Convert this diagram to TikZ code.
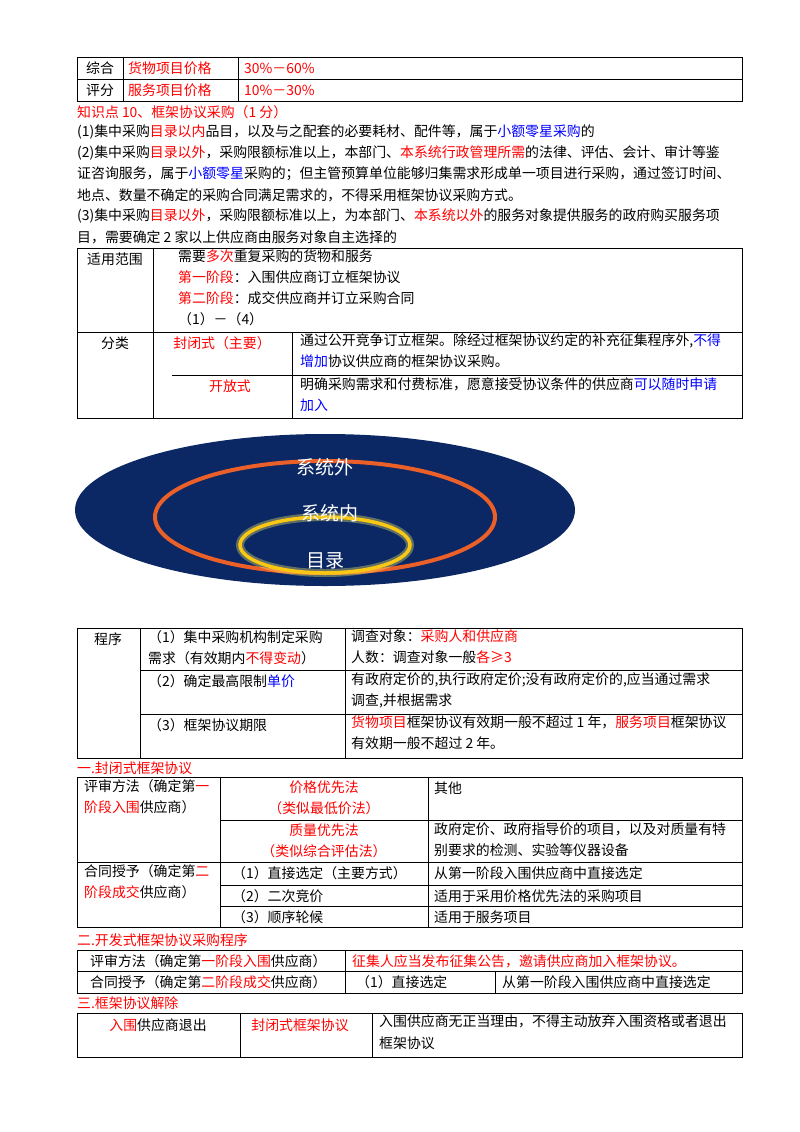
\documentclass[tikz,border=0pt]{standalone}
\usepackage{fontspec}
\setmainfont{Noto Sans CJK SC}
\newcommand{\R}[1]{\textcolor{red}{#1}}
\newcommand{\B}[1]{\textcolor{blue}{#1}}
\begin{document}
\begin{tikzpicture}[x=1pt,y=-1pt,
 t/.style={anchor=west,inner sep=0pt,font=\fontsize{13.9}{20}\selectfont},
 tc/.style={inner sep=0pt,font=\fontsize{13.9}{21}\selectfont,align=center},
 tb/.style={anchor=north west,inner sep=0pt,font=\fontsize{13.9}{21}\selectfont,align=left},
 g/.style={line width=0.8pt}]
\useasboundingbox (0,0) rectangle (800,1132);
% table 1
\draw[g] (77,57) rectangle (742,101) (77,79)--(742,79)(123,57)--(123,101)(238,57)--(238,101);
\node[tc] (a1) at (100,68) {综合}; \node[tc] (a2) at (100,90) {评分};
\node[t] (a3) at (128,68) {\R{货物项目价格}}; \node[t] (a4) at (128,90) {\R{服务项目价格}};
\node[t] (a5) at (244,68) {\R{30\%－60\%}}; \node[t] (a6) at (244,90) {\R{10\%－30\%}};
\node[t] (l0) at (77,112) {\R{知识点 10、框架协议采购（1 分）}};
\node[t] (l1) at (77,132) {(1)集中采购\R{目录以内}品目，以及与之配套的必要耗材、配件等，属于\B{小额零星采购}的};
\node[t] (l2) at (77,153) {(2)集中采购\R{目录以外}，采购限额标准以上，本部门、\R{本系统行政管理所需}的法律、评估、会计、审计等鉴};
\node[t] (l3) at (77,174) {证咨询服务，属于\B{小额零星}采购的；但主管预算单位能够归集需求形成单一项目进行采购，通过签订时间、};
\node[t] (l4) at (77,195) {地点、数量不确定的采购合同满足需求的，不得采用框架协议采购方式。};
\node[t] (l5) at (77,216) {(3)集中采购\R{目录以外}，采购限额标准以上，为本部门、\R{本系统以外}的服务对象提供服务的政府购买服务项};
\node[t] (l6) at (77,237) {目，需要确定 2 家以上供应商由服务对象自主选择的};
% table 2
\draw[g] (77,248) rectangle (742,418) (77,332)--(742,332)(172,375)--(742,375)(153,248)--(153,418)(292,332)--(292,418);
\node[tc] (b1) at (115,259) {适用范围};
\node[tb] (b2) at (178,250) {需要\R{多次}重复采购的货物和服务\\\R{第一阶段}：入围供应商订立框架协议\\\R{第二阶段}：成交供应商并订立采购合同\\（1）－（4）};
\node[tc] (b3) at (115,343) {分类};
\node[tc] (b4) at (222,343) {\R{封闭式（主要）}};
\node[tb] (b5) at (300,334) {通过公开竞争订立框架。除经过框架协议约定的补充征集程序外,\B{不得}\\\B{增加}协议供应商的框架协议采购。};
\node[tc] (b6) at (230,386) {\R{开放式}};
\node[tb] (b7) at (300,377) {明确采购需求和付费标准，愿意接受协议条件的供应商\B{可以随时申请}\\\B{加入}};
% ellipses
\fill[fill={rgb,255:red,12;green,40;blue,100}] (325,510) ellipse (250 and 76);
\draw[line width=4pt,color={rgb,255:red,235;green,95;blue,40}] (325,517) ellipse (170 and 56);
\draw[line width=8pt,color=yellow!60!white,opacity=0.35] (325,545) ellipse (85 and 28);
\draw[line width=3.5pt,color={rgb,255:red,250;green,200;blue,20}] (325,545) ellipse (85 and 28);
\node[tc,white,font=\fontsize{19}{20}\selectfont] (e1) at (325,467) {系统外};
\node[tc,white,font=\fontsize{19}{20}\selectfont] (e2) at (330,513) {系统内};
\node[tc,white,font=\fontsize{19}{20}\selectfont] (e3) at (325,561) {目录};
% table 3
\draw[g] (77,628) rectangle (742,758) (140,670)--(742,670)(140,714)--(742,714)(140,628)--(140,758)(345,628)--(345,758);
\node[tc] (c1) at (108,639) {程序};
\node[tb] (c2) at (148,630) {（1）集中采购机构制定采购\\需求（有效期内\R{不得变动}）};
\node[tb] (c3) at (351,630) {调查对象：\R{采购人和供应商}\\人数：调查对象一般\R{各≥3}};
\node[t] (c4) at (148,681) {（2）确定最高限制\B{单价}};
\node[tb] (c5) at (351,672) {有政府定价的,执行政府定价;没有政府定价的,应当通过需求\\调查,并根据需求};
\node[t] (c6) at (148,725) {（3）框架协议期限};
\node[tb] (c7) at (351,716) {\R{货物项目}框架协议有效期一般不超过 1 年，\R{服务项目}框架协议\\有效期一般不超过 2 年。};
\node[t] (h1) at (77,768) {\R{一.封闭式框架协议}};
% table 4
\draw[g] (77,777) rectangle (742,927) (220,820)--(742,820)(77,862)--(742,862)(220,885)--(742,885)(220,906)--(742,906)(220,777)--(220,927)(428,777)--(428,927);
\node[tb] (d1) at (84,779) {评审方法（确定第\R{一}\\\R{阶段入围}供应商）};
\node[tc] (d2) at (324,798) {\R{价格优先法}\\\R{（类似最低价法）}};
\node[t] (d3) at (434,788) {其他};
\node[tc] (d4) at (324,841) {\R{质量优先法}\\\R{（类似综合评估法）}};
\node[tb] (d5) at (434,822) {政府定价、政府指导价的项目，以及对质量有特\\别要求的检测、实验等仪器设备};
\node[tb] (d6) at (84,864) {合同授予（确定第\R{二}\\\R{阶段成交}供应商）};
\node[t] (d7) at (232,873) {（1）直接选定（主要方式）};
\node[t] (d8) at (434,873) {从第一阶段入围供应商中直接选定};
\node[t] (d9) at (232,896) {（2）二次竞价};
\node[t] (d10) at (434,896) {适用于采用价格优先法的采购项目};
\node[t] (d11) at (232,917) {（3）顺序轮候};
\node[t] (d12) at (434,917) {适用于服务项目};
\node[t] (h2) at (77,940) {\R{二.开发式框架协议采购程序}};
% table 5
\draw[g] (77,950) rectangle (742,993) (77,971)--(742,971)(345,950)--(345,993)(495,971)--(495,993);
\node[t] (f1) at (90,961) {评审方法（确定第\R{一阶段入围}供应商）};
\node[t] (f2) at (352,961) {\R{征集人应当发布征集公告，邀请供应商加入框架协议。}};
\node[t] (f3) at (90,982) {合同授予（确定第\R{二阶段成交}供应商）};
\node[t] (f4) at (356,982) {（1）直接选定};
\node[t] (f5) at (502,982) {从第一阶段入围供应商中直接选定};
\node[t] (h3) at (77,1003) {\R{三.框架协议解除}};
% table 6
\draw[g] (77,1013) rectangle (742,1057) (240,1013)--(240,1057)(372,1013)--(372,1057);
\node[tc] (k1) at (158,1025) {\R{入围}供应商退出};
\node[tc] (k2) at (300,1025) {\R{封闭式框架协议}};
\node[tb] (k3) at (379,1015) {入围供应商无正当理由，不得主动放弃入围资格或者退出\\框架协议};
\end{tikzpicture}
\end{document}
